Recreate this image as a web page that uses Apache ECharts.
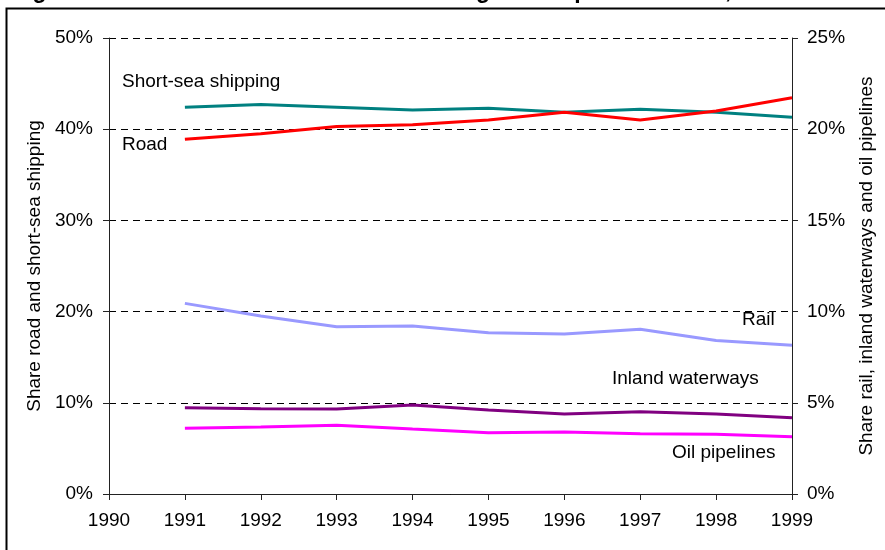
<!DOCTYPE html>
<html>
<head>
<meta charset="utf-8">
<script src="https://cdn.jsdelivr.net/npm/echarts@6/dist/echarts.min.js"></script>
<style>
  html, body { margin: 0; padding: 0; background: #fff; }
  #Chart { width: 885px; height: 550px; }
</style>
</head>
<body>
<div id="Chart"></div>
<script>
const years = [1991, 1992, 1993, 1994, 1995, 1996, 1997, 1998, 1999]
// left axis (%)
const shortSea = [42.4, 42.7, 42.4, 42.1, 42.3, 41.85, 42.2, 41.85, 41.3]
const road = [38.9, 39.5, 40.3, 40.5, 41.0, 41.85, 41.0, 42.0, 43.45]
// right axis (%)
const rail = [10.45, 9.76, 9.17, 9.21, 8.84, 8.77, 9.03, 8.41, 8.15]
const inland = [4.73, 4.68, 4.66, 4.88, 4.6, 4.39, 4.51, 4.39, 4.18]
const oil = [3.6, 3.67, 3.77, 3.56, 3.36, 3.4, 3.31, 3.27, 3.14]

const font = "\"Liberation Sans\", Arial, sans-serif"
const chart = echarts.init(document.getElementById("Chart"), null, { renderer: "canvas" })

const pairs = (vals) => vals.map((v, i) => [years[i], v])
const line = (name, color, vals, axis) => ({
  name: name,
  type: "line",
  yAxisIndex: axis,
  showSymbol: false,
  symbol: "none",
  lineStyle: { color: color, width: 3 },
  itemStyle: { color: color },
  data: pairs(vals)
})
const note = (text, x, y, align) => ({
  type: "text",
  left: x,
  top: y - 11,
  style: { text: text, font: "19px " + font, fill: "#000", align: align || "left" }
})

const axisLine = { show: true, lineStyle: { color: "#222", width: 1 } }
const axisTick = { show: true, inside: false, length: 6, lineStyle: { color: "#222" } }

let option = {
  animation: false,
  textStyle: { fontFamily: font },
  grid: { left: 109, right: 93, top: 38, bottom: 56 },
  xAxis: {
    type: "value",
    min: 1990,
    max: 1999,
    interval: 1,
    axisLine: axisLine,
    axisTick: axisTick,
    splitLine: { show: false },
    axisLabel: { color: "#000", fontSize: 19, margin: 17, formatter: (v) => String(v) }
  },
  yAxis: [
    {
      type: "value",
      min: 0,
      max: 50,
      interval: 10,
      position: "left",
      name: "Share road and short-sea shipping",
      nameLocation: "middle",
      nameGap: 62,
      nameTextStyle: { color: "#000", fontSize: 19 },
      axisLine: axisLine,
      axisTick: axisTick,
      axisLabel: { color: "#000", fontSize: 19, margin: 16, formatter: "{value}%" },
      splitLine: { show: true, lineStyle: { color: "#000", width: 1, type: [7, 5] } }
    },
    {
      type: "value",
      min: 0,
      max: 25,
      interval: 5,
      position: "right",
      name: "Share rail, inland waterways and oil pipelines",
      nameLocation: "middle",
      nameGap: 65,
      nameRotate: 90,
      nameTextStyle: { color: "#000", fontSize: 19 },
      axisLine: axisLine,
      axisTick: axisTick,
      axisLabel: { color: "#000", fontSize: 19, margin: 15, formatter: "{value}%" },
      splitLine: { show: false }
    }
  ],
  graphic: [
    {
      type: "text",
      left: 12,
      top: -20,
      style: {
        text: "Figure 2: Market share of the modes in freight transport in the EU, 1991-1999",
        font: "bold 23px " + font,
        fill: "#000"
      }
    },
    {
      type: "rect",
      left: 4,
      top: 6,
      shape: { width: 1000, height: 1000 },
      style: { fill: "none", stroke: "#000", lineWidth: 2 }
    },
    note("Short-sea shipping", 122, 83),
    note("Road", 122, 146),
    note("Rail", 742, 321),
    note("Inland waterways", 612, 380),
    note("Oil pipelines", 672, 454)
  ],
  series: [
    line("Short-sea shipping", "#008080", shortSea, 0),
    line("Road", "#ff0000", road, 0),
    line("Rail", "#9999ff", rail, 1),
    line("Inland waterways", "#800080", inland, 1),
    line("Oil pipelines", "#ff00ff", oil, 1)
  ]
}
chart.setOption(option)
</script>
</body>
</html>
